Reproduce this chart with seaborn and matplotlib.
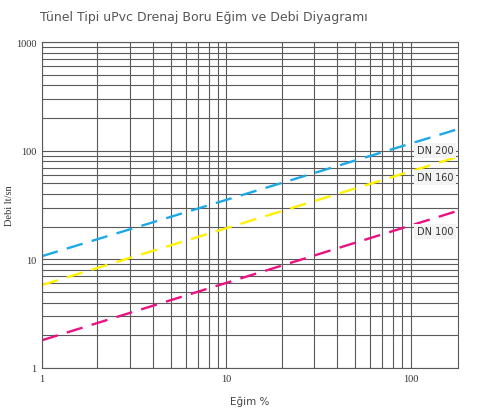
import pandas as pd
import matplotlib.pyplot as plt
import seaborn as sns

# Slope (%) endpoints and flow (lt/sn)
slope = [1, 180]
dn200 = [10.7, 158]
dn160 = [5.8, 88]
dn100 = [1.8, 28]
series = ["DN 200", "DN 160", "DN 100"]
colors = ["#1ea8e6", "#fff200", "#ea1180"]
label_y = [101, 57, 18.2]

data = pd.DataFrame({
    "Eğim": slope * 3,
    "Debi": dn200 + dn160 + dn100,
    "Boru": [s for s in series for _ in slope],
})

sns.set_style("white")
fig = plt.figure(figsize=(4.88, 4.10), dpi=100)
ax = fig.add_axes([0.086, 0.1, 0.8525, 0.795])

sns.lineplot(data=data, x="Eğim", y="Debi", hue="Boru", style="Boru",
             palette=dict(zip(series, colors)),
             dashes={s: (7, 4) for s in series},
             linewidth=1.7, legend=False, ax=ax)

ax.set_xscale("log")
ax.set_yscale("log")
ax.set_xlim(1, 180)
ax.set_ylim(1, 1000)

ax.grid(True, which="both", color="#5a5a5a", linewidth=0.8)
ax.set_axisbelow(True)
for sp in ax.spines.values():
    sp.set_color("#5a5a5a")
    sp.set_linewidth(0.8)
ax.tick_params(which="both", length=0, labelsize=7.5, pad=4)
ax.set_xticks([1, 10, 100], ["1", "10", "100"])
ax.set_yticks([1, 10, 100, 1000], ["1", "10", "100", "1000"])
ax.minorticks_on()
ax.tick_params(which="minor", labelleft=False, labelbottom=False)
for t in ax.get_xticklabels() + ax.get_yticklabels():
    t.set_family("Liberation Serif")
    t.set_color("#333333")

for name, yv in zip(series, label_y):
    ax.text(135, yv, name, ha="center", va="center", fontsize=7,
            color="#333333", family="DejaVu Sans",
            bbox=dict(boxstyle="square,pad=0.25", fc="#f3f3f3", ec="none"))

ax.set_xlabel("Eğim %", fontsize=7.5, color="#444444", family="DejaVu Sans", labelpad=9)
ax.set_ylabel("Debi lt/sn", fontsize=7.5, color="#333333", family="Liberation Serif")
ax.yaxis.set_label_coords(-0.068, 0.5)

fig.text(0.082, 0.958, "Tünel Tipi uPvc Drenaj Boru Eğim ve Debi Diyagramı",
         fontsize=9, color="#555555", family="DejaVu Sans", va="center")

plt.savefig("out.png", dpi=100)
